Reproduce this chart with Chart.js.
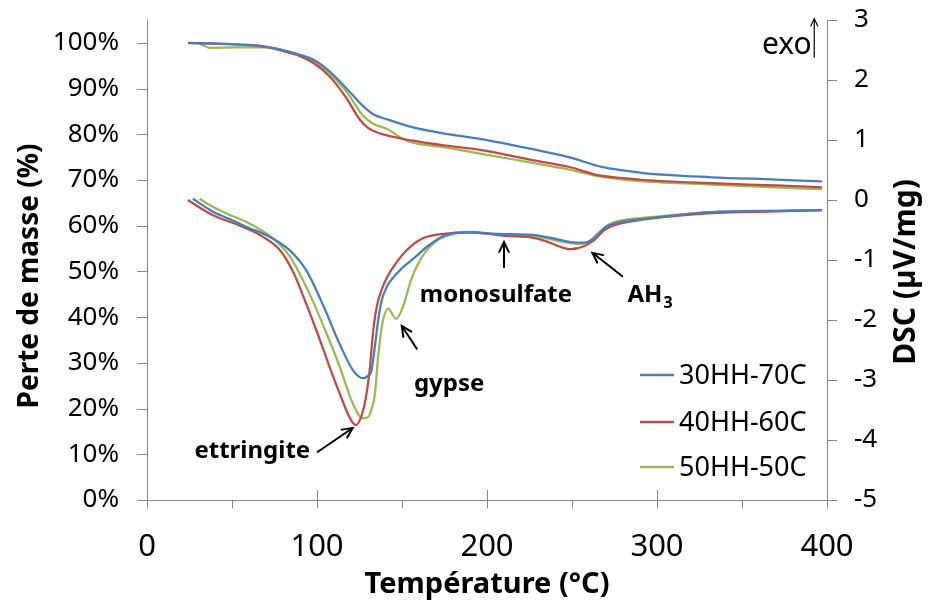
<!DOCTYPE html>
<html><head><meta charset="utf-8">
<script src="https://cdn.jsdelivr.net/npm/chart.js@4.4.1/dist/chart.umd.min.js"></script>
<style>html,body{margin:0;padding:0;background:#fff;}#wrap{width:930px;height:609px;}</style>
</head><body><div id="wrap"><canvas id="c" width="930" height="609"></canvas></div>
<script>
// ---------------- DATA ----------------
const seriesNames = ['30HH-70C', '40HH-60C', '50HH-50C'];
const seriesColors = ['#4A7EBB', '#BE4B48', '#98B954'];

const xTicks = [0, 100, 200, 300, 400];
const massTicks = [0, 10, 20, 30, 40, 50, 60, 70, 80, 90, 100];
const dscTicks = [-5, -4, -3, -2, -1, 0, 1, 2, 3];

// TG (mass, %) vs temperature (°C)
const tgTemp30 = [25, 50, 70, 78, 90, 97.5, 107, 117, 127, 133, 141, 156.5, 176, 196, 226, 248, 268, 280, 292, 332, 370, 397];
const tgMass30 = [100, 99.7, 99.1, 98.6, 97.4, 96.4, 93.9, 90.2, 86.2, 84.4, 83.3, 81.5, 80.1, 79, 76.8, 75, 72.8, 72.1, 71.5, 70.6, 70.1, 69.7];

const tgTemp40 = [24, 50, 68, 78, 90, 97.5, 107, 117, 125, 130, 137, 156.5, 176, 196, 226, 248, 266, 280, 292, 332, 370, 397];
const tgMass40 = [100, 99.7, 99.3, 98.4, 97.1, 95.7, 92.8, 88.1, 83.3, 81.4, 80.2, 78.6, 77.5, 76.6, 74.4, 72.9, 71, 70.4, 70, 69.3, 68.8, 68.4];

const tgTemp50 = [30, 33, 37, 50, 68, 78, 90, 97.5, 107, 117, 127, 133, 141, 152.6, 176, 200, 226, 248, 266, 280, 292, 332, 370, 397];
const tgMass50 = [100, 99.5, 98.9, 99, 99, 98.6, 97.3, 96.2, 93.5, 89.5, 84.1, 82.3, 81.2, 78.6, 77.1, 75.5, 73.8, 72.3, 70.8, 70.1, 69.7, 69, 68.4, 68];

// DSC (µV/mg) vs temperature (°C)
const dscTemp30 = [27, 38.5, 48, 58, 74, 84, 93.6, 104, 113, 121, 127, 130, 132, 134, 136, 138, 141, 144, 151, 157, 166, 176, 190, 202, 216, 227, 239, 249, 257, 263, 269, 275, 294, 332, 370, 397];
const dscVal30 = [0.02, -0.19, -0.31, -0.44, -0.64, -0.84, -1.17, -1.78, -2.38, -2.83, -2.97, -2.93, -2.85, -2.45, -2.0, -1.68, -1.45, -1.32, -1.11, -0.97, -0.75, -0.58, -0.54, -0.56, -0.57, -0.58, -0.64, -0.70, -0.71, -0.64, -0.47, -0.39, -0.31, -0.2, -0.18, -0.17];

const dscTemp40 = [24, 38.5, 54, 68, 78, 86, 93.5, 100, 107, 113, 120, 123, 127, 129, 131, 133, 135, 138, 141, 145, 153, 162, 176, 188, 200, 212, 225, 235, 243, 249, 257, 263, 269, 275, 294, 332, 370, 397];
const dscVal40 = [0, -0.25, -0.42, -0.61, -0.83, -1.2, -1.72, -2.2, -2.75, -3.2, -3.67, -3.75, -3.52, -3.25, -2.83, -2.2, -1.8, -1.5, -1.3, -1.11, -0.83, -0.64, -0.56, -0.54, -0.56, -0.6, -0.62, -0.69, -0.78, -0.82, -0.77, -0.67, -0.5, -0.42, -0.32, -0.22, -0.19, -0.17];

const dscTemp50 = [31, 38.5, 48, 58, 74, 84, 91.6, 99.5, 106, 113, 121, 127, 130, 132, 134, 136, 138.5, 141.8, 146.6, 150.8, 155.5, 162, 170, 180, 192, 206, 220, 231, 243, 253, 259, 265, 271, 279, 294, 332, 370, 397];
const dscVal50 = [0.02, -0.11, -0.24, -0.36, -0.64, -0.94, -1.33, -1.81, -2.25, -2.75, -3.39, -3.64, -3.62, -3.5, -3.25, -2.6, -2.05, -1.81, -1.98, -1.76, -1.32, -0.94, -0.69, -0.57, -0.53, -0.57, -0.58, -0.61, -0.69, -0.73, -0.71, -0.56, -0.42, -0.34, -0.29, -0.2, -0.18, -0.17];

// annotations (data coordinates: temperature, DSC)
const annotations = [
  {text: 'ettringite', tx: 96, ty: -4.18, align: 'right', from: [100.3, -4.2], to: [121, -3.8]},
  {text: 'gypse', tx: 157, ty: -3.07, align: 'left', from: [158.7, -2.48], to: [149.9, -2.1]},
  {text: 'monosulfate', tx: 160.5, ty: -1.58, align: 'left', from: [210, -1.12], to: [210, -0.7]},
  {text: 'AH', sub: '3', tx: 282.6, ty: -1.58, align: 'left', from: [279.6, -1.27], to: [262, -0.88]}
];

// ---------------- CHART ----------------
const FONT = "'Noto Sans', 'Open Sans', sans-serif";
const AXIS_COLOR = '#868686';

function pts(xs, ys) { return xs.map((x, i) => ({x: x, y: ys[i]})); }

const tgSets = [[tgTemp30, tgMass30], [tgTemp40, tgMass40], [tgTemp50, tgMass50]];
const dscSets = [[dscTemp30, dscVal30], [dscTemp40, dscVal40], [dscTemp50, dscVal50]];
const datasets = [];
tgSets.forEach((s, i) => datasets.push({label: seriesNames[i] + ' TG', data: pts(s[0], s[1]), yAxisID: 'yMass',
  borderColor: seriesColors[i], borderWidth: 2.25, pointRadius: 0, cubicInterpolationMode: 'monotone', fill: false}));
dscSets.forEach((s, i) => datasets.push({label: seriesNames[i], data: pts(s[0], s[1]), yAxisID: 'yDsc',
  borderColor: seriesColors[i], borderWidth: 2.25, pointRadius: 0, cubicInterpolationMode: 'monotone', fill: false}));

function arrow(ctx, x1, y1, x2, y2, head, lw) {
  ctx.save();
  ctx.strokeStyle = '#000'; ctx.lineWidth = lw; ctx.lineCap = 'round';
  ctx.beginPath(); ctx.moveTo(x1, y1); ctx.lineTo(x2, y2); ctx.stroke();
  const a = Math.atan2(y2 - y1, x2 - x1);
  ctx.beginPath();
  ctx.moveTo(x2 - head * Math.cos(a - 0.45), y2 - head * Math.sin(a - 0.45));
  ctx.lineTo(x2, y2);
  ctx.lineTo(x2 - head * Math.cos(a + 0.45), y2 - head * Math.sin(a + 0.45));
  ctx.stroke();
  ctx.restore();
}

const decorPlugin = {
  id: 'decor',
  afterDraw(chart) {
    const ctx = chart.ctx;
    const xs = chart.scales.x, ym = chart.scales.yMass, yd = chart.scales.yDsc;
    const ca = chart.chartArea;
    ctx.save();
    // tick marks
    ctx.strokeStyle = AXIS_COLOR; ctx.lineWidth = 1;
    ctx.beginPath();
    massTicks.forEach(v => { const y = Math.round(ym.getPixelForValue(v)) + 0.5; ctx.moveTo(ca.left - 10, y); ctx.lineTo(ca.left, y); });
    dscTicks.forEach(v => { const y = Math.round(yd.getPixelForValue(v)) + 0.5; ctx.moveTo(ca.right, y); ctx.lineTo(ca.right + 10, y); });
    for (let v = 0; v <= 400; v += 50) {
      const x = Math.round(xs.getPixelForValue(v)) + 0.5;
      const major = xTicks.includes(v);
      ctx.moveTo(x, ca.bottom + 8); ctx.lineTo(x, major ? ca.bottom - 10 : ca.bottom);
    }
    ctx.stroke();

    // axis titles
    ctx.fillStyle = '#000';
    ctx.textAlign = 'center'; ctx.textBaseline = 'middle';
    ctx.font = 'bold 28px ' + FONT;
    ctx.save(); ctx.translate(30, 276); ctx.rotate(-Math.PI / 2); ctx.fillText('Perte de masse (%)', 0, 0); ctx.restore();
    ctx.font = 'bold 29px ' + FONT;
    ctx.fillText('Température (°C)', (ca.left + ca.right) / 2, 585);
    ctx.font = 'bold 30px ' + FONT;
    ctx.save(); ctx.translate(906, 272); ctx.rotate(-Math.PI / 2); ctx.fillText('DSC (µV/mg)', 0, 0); ctx.restore();

    // legend
    ctx.font = '27px ' + FONT; ctx.textAlign = 'left';
    const legY = [375, 422, 467];
    seriesNames.forEach((n, i) => {
      ctx.strokeStyle = seriesColors[i]; ctx.lineWidth = 2.5;
      ctx.beginPath(); ctx.moveTo(640, legY[i]); ctx.lineTo(674, legY[i]); ctx.stroke();
      ctx.fillStyle = '#000'; ctx.fillText(n, 679, legY[i] + 1);
    });

    // annotations
    annotations.forEach(a => {
      ctx.font = 'bold 24px ' + FONT;
      ctx.textAlign = a.align; ctx.textBaseline = 'middle'; ctx.fillStyle = '#000';
      const tx = xs.getPixelForValue(a.tx), ty = yd.getPixelForValue(a.ty);
      ctx.fillText(a.text, tx, ty);
      if (a.sub) {
        const w = ctx.measureText(a.text).width;
        ctx.font = 'bold 16px ' + FONT;
        ctx.fillText(a.sub, tx + w + 1, ty + 9);
      }
      arrow(ctx, xs.getPixelForValue(a.from[0]), yd.getPixelForValue(a.from[1]),
        xs.getPixelForValue(a.to[0]), yd.getPixelForValue(a.to[1]), 11, 2);
    });

    // exo arrow
    ctx.font = '30px ' + FONT; ctx.textAlign = 'right'; ctx.textBaseline = 'middle'; ctx.fillStyle = '#000';
    ctx.fillText('exo', xs.getPixelForValue(391), yd.getPixelForValue(2.58));
    arrow(ctx, xs.getPixelForValue(392.5), yd.getPixelForValue(2.38), xs.getPixelForValue(392.5), yd.getPixelForValue(3.02), 8, 1.2);
    ctx.restore();
  }
};

new Chart(document.getElementById('c'), {
  type: 'line',
  data: {datasets: datasets},
  options: {
    responsive: false, animation: false, devicePixelRatio: 1,
    layout: {padding: {top: 0, left: 0, right: 0, bottom: 0}},
    plugins: {legend: {display: false}, tooltip: {enabled: false}},
    scales: {
      x: {
        type: 'linear', min: 0, max: 400,
        afterBuildTicks: s => { s.ticks = xTicks.map(v => ({value: v})); },
        afterFit: s => { s.height = 109; },
        grid: {display: false, drawTicks: false},
        border: {display: true, color: AXIS_COLOR, width: 1},
        ticks: {color: '#000', font: {family: FONT, size: 31}, padding: 29, maxRotation: 0, autoSkip: false}
      },
      yMass: {
        type: 'linear', position: 'left', min: 0, max: 105,
        afterBuildTicks: s => { s.ticks = massTicks.map(v => ({value: v})); },
        afterFit: s => { s.width = 147; s.paddingTop = 20; },
        grid: {display: false, drawTicks: false},
        border: {display: true, color: AXIS_COLOR, width: 1},
        ticks: {color: '#000', font: {family: FONT, size: 26}, padding: 28, callback: v => v + '%', autoSkip: false}
      },
      yDsc: {
        type: 'linear', position: 'right', min: -5, max: 3,
        afterBuildTicks: s => { s.ticks = dscTicks.map(v => ({value: v})); },
        afterFit: s => { s.width = 103; s.paddingTop = 20; },
        grid: {display: false, drawTicks: false},
        border: {display: true, color: AXIS_COLOR, width: 1},
        ticks: {color: '#000', font: {family: FONT, size: 26}, padding: 27, autoSkip: false}
      }
    }
  },
  plugins: [decorPlugin]
});
</script></body></html>
